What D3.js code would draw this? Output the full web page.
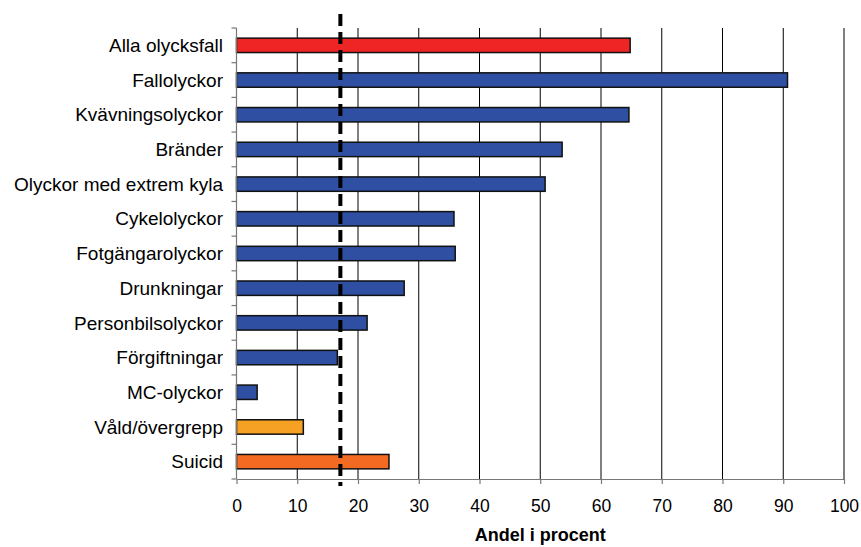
<!DOCTYPE html>
<html><head><meta charset="utf-8">
<script src="https://cdn.jsdelivr.net/npm/d3@7"></script>
<style>body{margin:0;background:#fff}svg{display:block}text{font-family:"Liberation Sans",Arial,sans-serif}</style>
</head><body><svg id="c" width="861" height="547"></svg>
<script>
const categories = ["Alla olycksfall","Fallolyckor","Kvävningsolyckor","Bränder","Olyckor med extrem kyla","Cykelolyckor","Fotgängarolyckor","Drunkningar","Personbilsolyckor","Förgiftningar","MC-olyckor","Våld/övergrepp","Suicid"];
const values = [64.8,90.7,64.6,53.6,50.8,35.8,36.0,27.6,21.5,16.6,3.4,11.0,25.1];
const groups = ["all","olycka","olycka","olycka","olycka","olycka","olycka","olycka","olycka","olycka","olycka","vald","suicid"];
const groupColors = {all:"#EE2524", olycka:"#2F4FA2", vald:"#F7A124", suicid:"#F36B22"};
const xTicks = [0,10,20,30,40,50,60,70,80,90,100];
const referenceValue = 17.1;
const xTitle = "Andel i procent";

const svg = d3.select("#c");
const L = 236.5, R = 844, T = 28, B = 479;
const x = d3.scaleLinear().domain([0,100]).range([L,R]);
const y = d3.scaleBand().domain(categories).range([T,B]).paddingInner(0.585).paddingOuter(0.2925);

// gridlines
svg.append("g").selectAll("line").data(xTicks.filter(d=>d>0)).join("line")
  .attr("x1",d=>x(d)).attr("x2",d=>x(d)).attr("y1",T).attr("y2",B)
  .attr("stroke","#000").attr("stroke-width",1);

// bars
svg.append("g").selectAll("rect").data(categories).join("rect")
  .attr("x",x(0)).attr("y",d=>y(d)).attr("height",y.bandwidth())
  .attr("width",(d,i)=>x(values[i])-x(0))
  .attr("fill",(d,i)=>groupColors[groups[i]])
  .attr("stroke","#111").attr("stroke-width",1.5);

// y axis
const band = (B-T)/categories.length;
const yAxisG = svg.append("g");
yAxisG.append("line").attr("x1",L).attr("x2",L).attr("y1",T).attr("y2",B).attr("stroke","#777").attr("stroke-width",1.2);
yAxisG.selectAll("line.t").data(d3.range(categories.length+1)).join("line").attr("class","t")
  .attr("x1",L-5).attr("x2",L).attr("y1",i=>T+i*band).attr("y2",i=>T+i*band).attr("stroke","#777").attr("stroke-width",1.2);
yAxisG.selectAll("text").data(categories).join("text")
  .attr("x",223).attr("y",d=>y(d)+y.bandwidth()/2).attr("dy","0.35em")
  .attr("text-anchor","end").attr("font-size",19).attr("fill","#000").text(d=>d);

// x axis
const xAxis = d3.axisBottom(x).tickValues(xTicks).tickSize(5).tickSizeOuter(0).tickPadding(0);
const xg = svg.append("g").attr("transform",`translate(0,${B})`).call(xAxis);
xg.select(".domain").attr("stroke","#777").attr("stroke-width",1.2);
xg.selectAll(".tick line").attr("stroke","#777").attr("stroke-width",1.2);
xg.selectAll("text").attr("font-size",17.5).attr("fill","#000").attr("font-family","\"Liberation Sans\",Arial,sans-serif")
  .attr("y",33).attr("dy",0);

svg.append("text").attr("x",(L+R)/2).attr("y",541).attr("text-anchor","middle")
  .attr("font-size",18).attr("font-weight","bold").text(xTitle);

// reference dashed line
svg.append("line").attr("x1",x(referenceValue)).attr("x2",x(referenceValue))
  .attr("y1",14).attr("y2",486).attr("stroke","#000").attr("stroke-width",4)
  .attr("stroke-dasharray","12,6");
</script></body></html>
